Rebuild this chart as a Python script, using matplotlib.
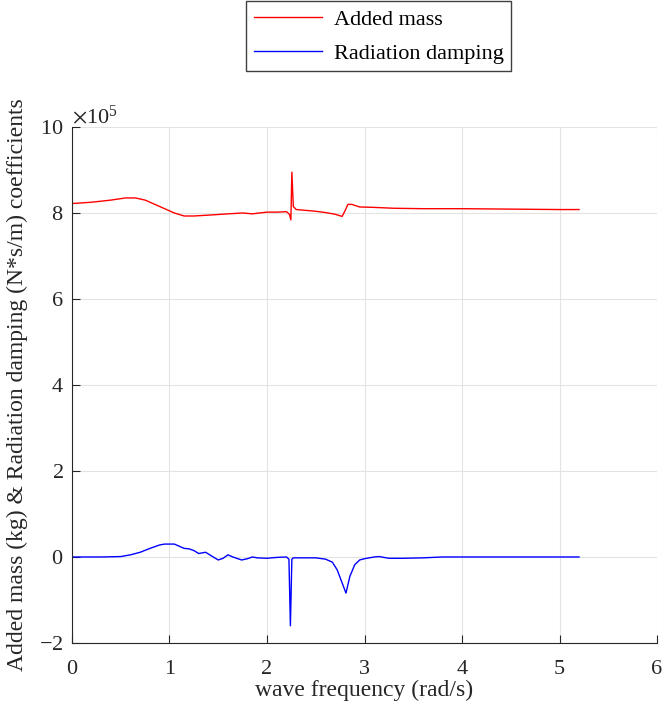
import matplotlib
matplotlib.use('Agg')

from matplotlib import pyplot as plt
from matplotlib.ticker import ScalarFormatter

# wave frequency (rad/s) and coefficients
freq_am = [0, 0.2, 0.4, 0.55, 0.65, 0.75, 0.85, 0.95, 1.05, 1.15, 1.25, 1.4, 1.6,
           1.75, 1.85, 2.0, 2.1, 2.2, 2.23, 2.245, 2.255, 2.27, 2.3, 2.4, 2.5, 2.6,
           2.7, 2.77, 2.8, 2.83, 2.87, 2.95, 3.1, 3.3, 3.6, 4.0, 4.5, 5.0, 5.2]
added_mass = [8.22e5, 8.25e5, 8.3e5, 8.35e5, 8.35e5, 8.3e5, 8.2e5, 8.1e5, 8.0e5,
              7.93e5, 7.93e5, 7.95e5, 7.98e5, 8.0e5, 7.98e5, 8.02e5, 8.02e5, 8.03e5,
              7.97e5, 7.84e5, 8.95e5, 8.15e5, 8.08e5, 8.06e5, 8.04e5, 8.01e5, 7.97e5,
              7.92e5, 8.05e5, 8.2e5, 8.2e5, 8.14e5, 8.13e5, 8.11e5, 8.1e5, 8.1e5,
              8.09e5, 8.08e5, 8.08e5]

freq_rd = [0, 0.3, 0.5, 0.6, 0.7, 0.8, 0.9, 0.95, 1.05, 1.1, 1.15, 1.2, 1.25, 1.3,
           1.37, 1.42, 1.5, 1.55, 1.6, 1.65, 1.74, 1.8, 1.85, 1.9, 2.0, 2.1, 2.2,
           2.225, 2.24, 2.255, 2.27, 2.3, 2.4, 2.5, 2.6, 2.67, 2.72, 2.77, 2.81,
           2.85, 2.9, 2.95, 3.0, 3.1, 3.15, 3.25, 3.4, 3.6, 3.8, 4.0, 4.5, 5.0, 5.2]
rad_damping = [0, 0, 0.01e5, 0.05e5, 0.11e5, 0.2e5, 0.28e5, 0.3e5, 0.3e5, 0.25e5,
               0.2e5, 0.19e5, 0.15e5, 0.08e5, 0.11e5, 0.04e5, -0.07e5, -0.03e5,
               0.05e5, 0.0, -0.07e5, -0.04e5, 0.0, -0.02e5, -0.03e5, -0.01e5, 0.0,
               -0.05e5, -1.6e5, -0.05e5, -0.02e5, -0.02e5, -0.02e5, -0.02e5,
               -0.05e5, -0.12e5, -0.3e5, -0.6e5, -0.84e5, -0.45e5, -0.18e5,
               -0.07e5, -0.04e5, 0.0, 0.01e5, -0.03e5, -0.03e5, -0.02e5, 0.0, 0.0,
               0.0, 0.0, 0.0]

plt.rcParams['font.family'] = ['Liberation Serif', 'DejaVu Serif']
plt.rcParams['mathtext.fontset'] = 'stix'
plt.rcParams['axes.unicode_minus'] = False

axis_col = '#262626'

fig = plt.figure(figsize=(6.64, 7.13), dpi=100)
ax = fig.add_axes([0.1084, 0.0982, 0.8811, 0.7237])

ax.plot(freq_am, added_mass, color='red', linewidth=1.0, label='Added mass')
ax.plot(freq_rd, rad_damping, color='blue', linewidth=1.0, label='Radiation damping')

ax.set_xlim(0, 6)
ax.set_ylim(-2e5, 10e5)
ax.set_xticks(range(0, 7))
ax.set_yticks([-2e5, 0, 2e5, 4e5, 6e5, 8e5, 10e5])

fmt = ScalarFormatter(useMathText=True)
fmt.set_powerlimits((5, 5))
ax.yaxis.set_major_formatter(fmt)
ax.yaxis.get_offset_text().set_fontsize(16)
ax.yaxis.get_offset_text().set_color(axis_col)

ax.grid(True, color='#e3e3e3', linewidth=0.8)
ax.set_axisbelow(True)
ax.spines['top'].set_visible(False)
ax.spines['right'].set_visible(False)
ax.spines['left'].set_color(axis_col)
ax.spines['bottom'].set_color(axis_col)
ax.tick_params(direction='in', length=6, labelsize=16, colors=axis_col)
ax.tick_params(axis='x', pad=12)
ax.tick_params(axis='y', pad=6)

ax.set_xlabel('wave frequency (rad/s)', fontsize=17, labelpad=1, color=axis_col)
ax.set_ylabel('Added mass (kg) & Radiation damping (N*s/m) coefficients',
              fontsize=17, labelpad=8, color=axis_col)

fig.legend(loc='upper center', bbox_to_anchor=(0.57, 0.998), fontsize=16,
           handlelength=3.1, handletextpad=0.5, frameon=True, fancybox=False,
           edgecolor='#404040', framealpha=1, borderpad=0.35, labelspacing=0.6,
           borderaxespad=0)

fig.savefig('out.png', dpi=100)
plt.close(fig)
